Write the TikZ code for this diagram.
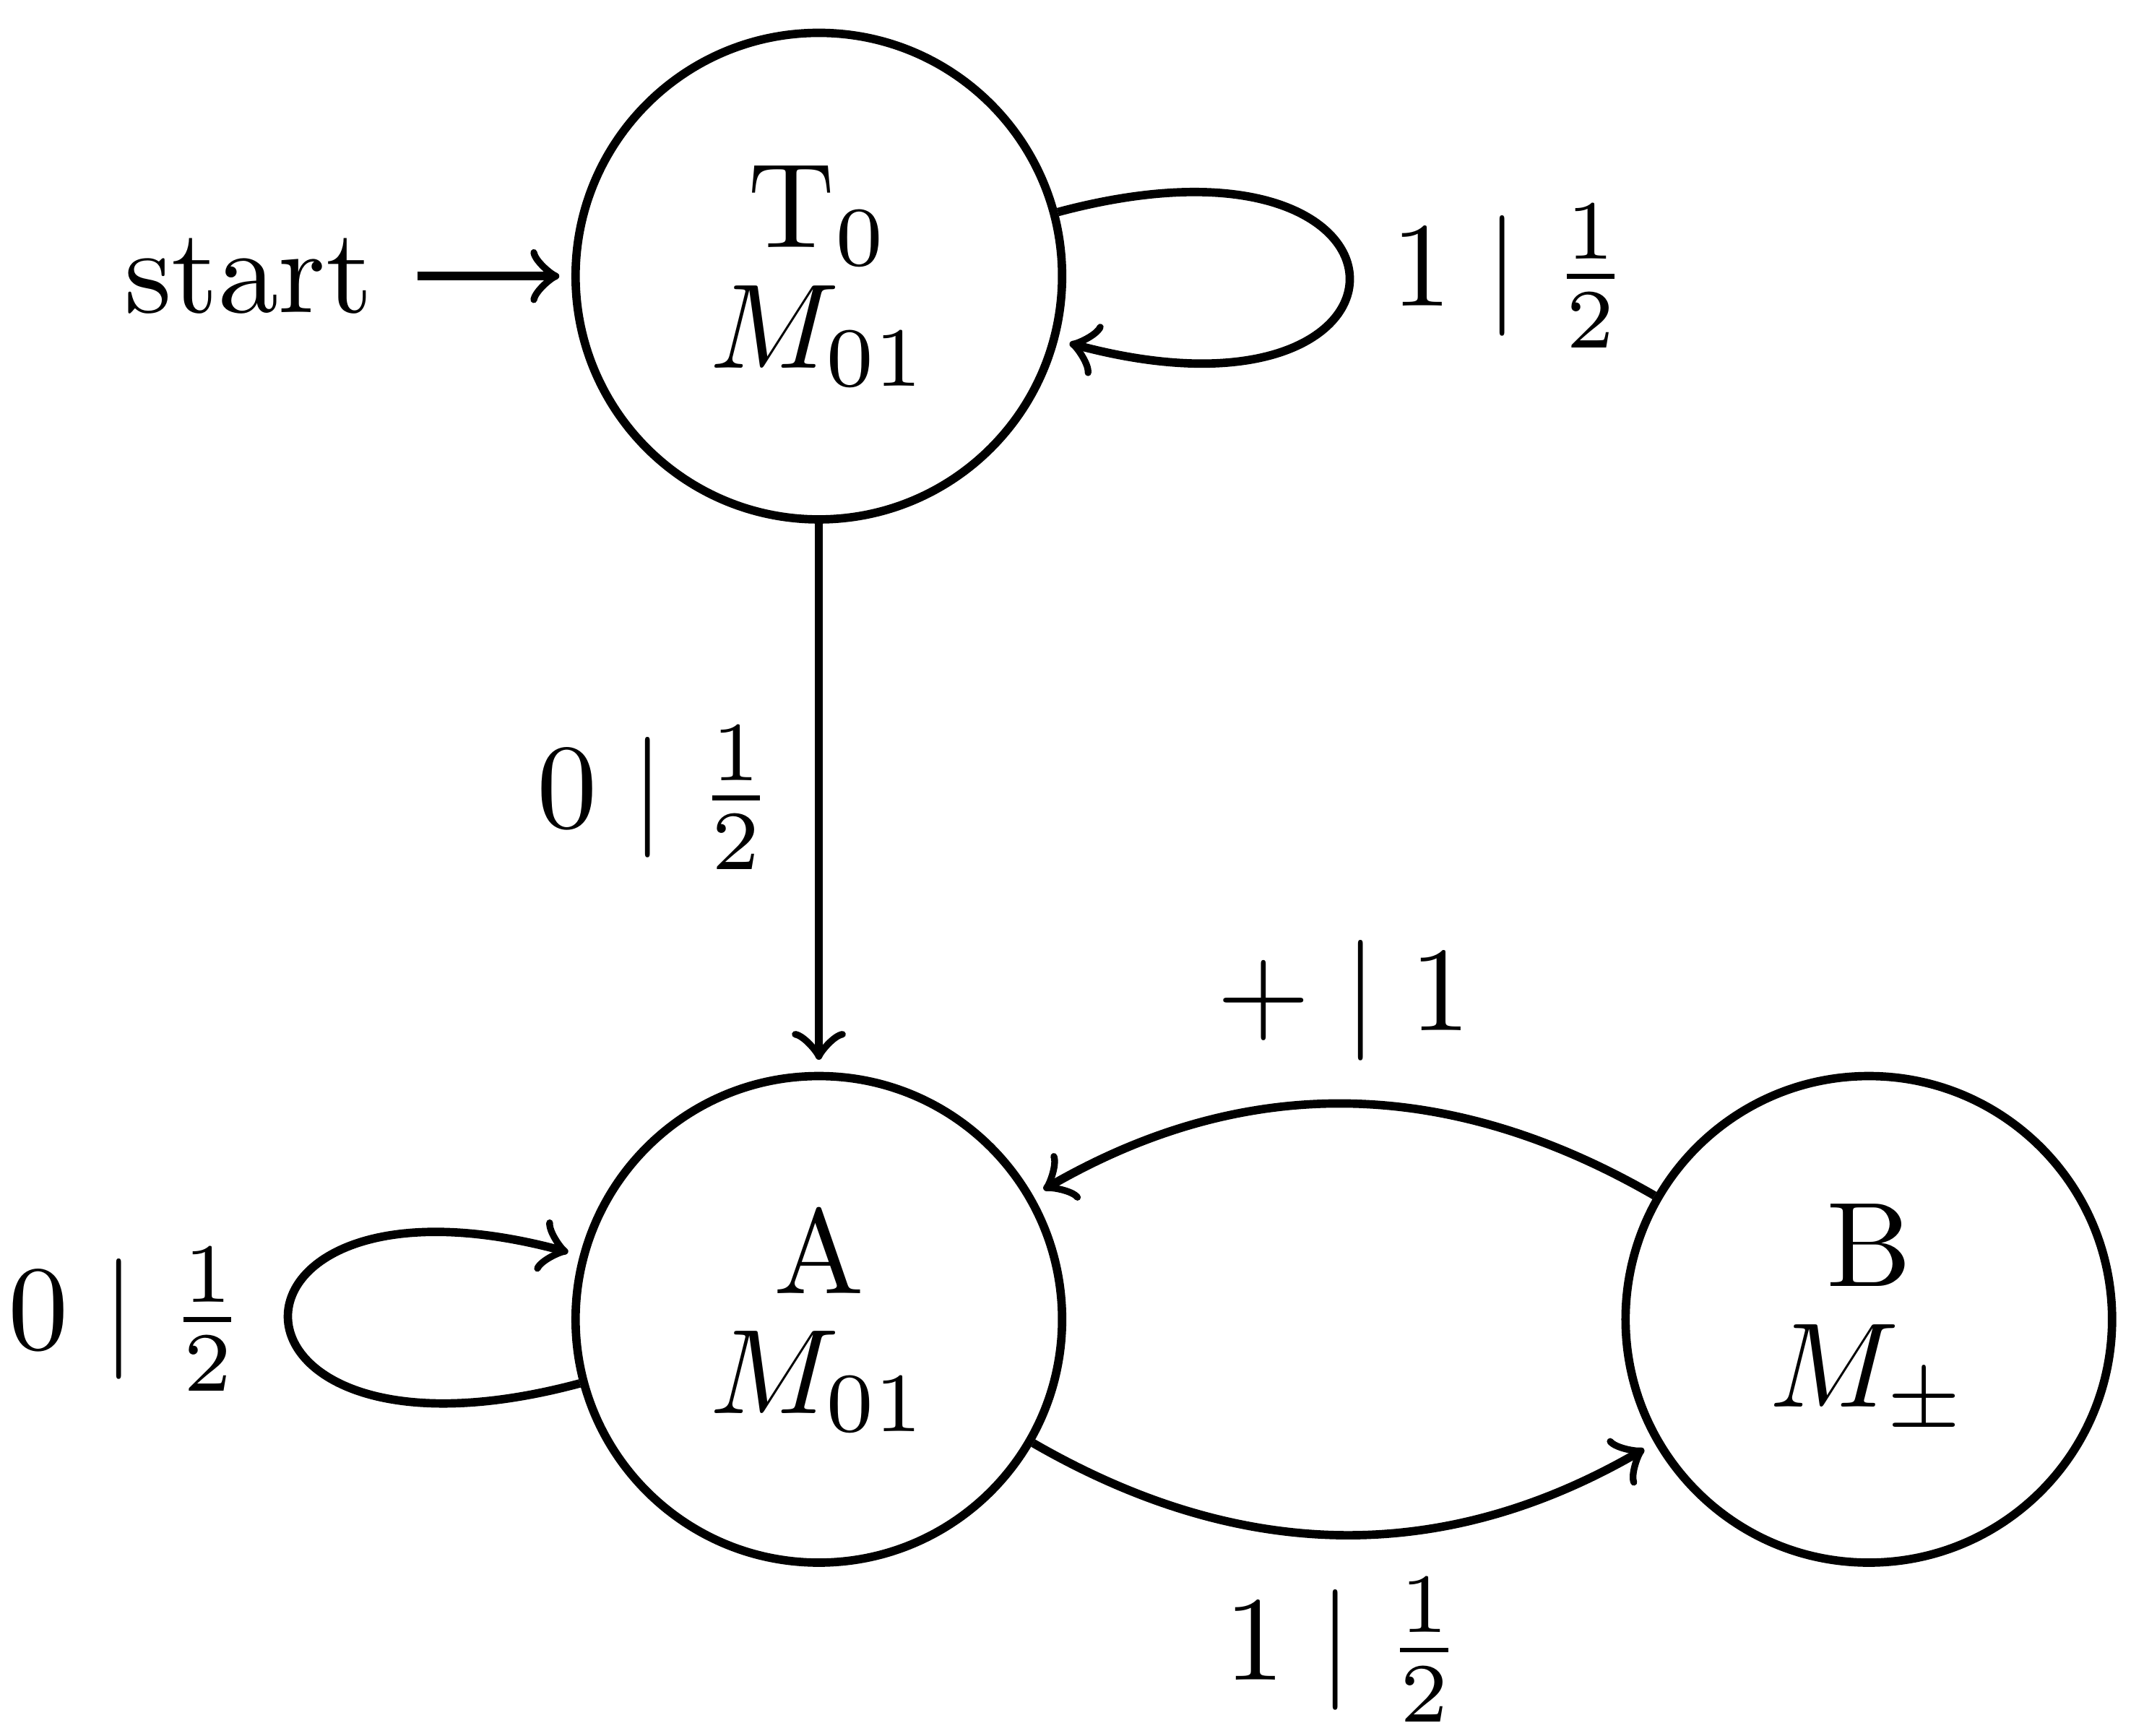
\documentclass[tikz,border=0pt]{standalone}
\usetikzlibrary{automata,positioning}
\begin{document}
\begin{tikzpicture}[line width=0.7pt,shorten >=1pt,
	state/.style={circle,draw,minimum size=1.42cm,inner sep=0pt,align=center},
	every loop/.style={looseness=8}]
	\useasboundingbox(-2.39,0.806)rectangle(3.83,-4.26);
	\node[state](t0)at(0,0){T$_0$\\[-2pt]$M_{01}$};
	\node[state,below=1.6cm of t0](a){A\\[-2pt]$M_{01}$};
	\node[state,right=1.62cm of a](b){B\\[-2pt]$M_{\pm}$};
	\node[left=0.45cm of t0](start){start};
	\draw[->](start)--(t0);
	\draw[->](t0)to[out=15,in=-15,loop]node[right]{$1\mid\frac{1}{2}$}(t0);
	\draw[->](t0)--node[left]{$0\mid\frac{1}{2}$}(a);
	\draw[->](a)to[out=195,in=165,loop]node[left]{$0\mid\frac{1}{2}$}(a);
	\draw[->](a)to[bend right=30]node[below]{$1\mid\frac{1}{2}$}(b);
	\draw[->](b)to[bend right=30]node[above]{$+\mid1$}(a);
\end{tikzpicture}
\end{document}
